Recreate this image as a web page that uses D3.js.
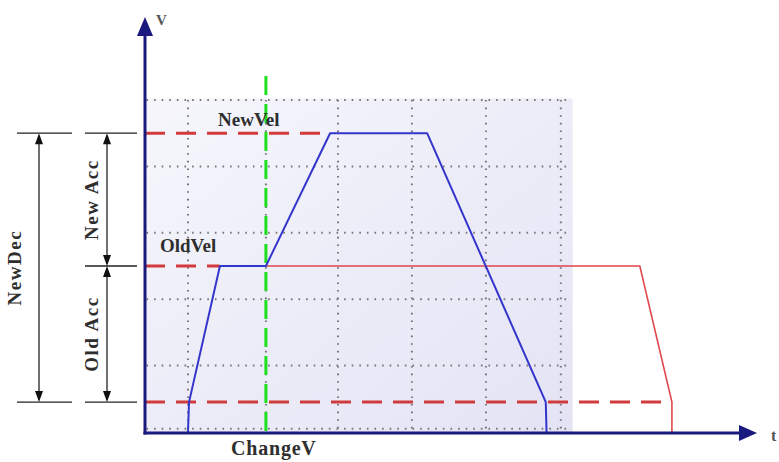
<!DOCTYPE html>
<html>
<head>
<meta charset="utf-8">
<script src="https://cdn.jsdelivr.net/npm/d3@7/dist/d3.min.js"></script>
<style>
  html, body { margin: 0; padding: 0; background: #ffffff; }
  svg { display: block; }
  .lbl { font-family: "Liberation Serif", "DejaVu Serif", serif; font-weight: bold; fill: #2e2e2e; }
</style>
</head>
<body>
<svg id="chart" width="779" height="462"></svg>
<script>
// Velocity profile before and after a speed change (time t, velocity v)
const gridTimes = [2.88, 8.1, 12.93, 17.88, 22.84, 27.86];
const gridVels = [0.1, 2, 4, 6, 8, 10];

const baseVel = 0.9;
const oldVel = 5;
const newVel = 9;
const changeTime = 8.1;

// new profile: accelerate to OldVel, change at ChangeV, ramp to NewVel, decelerate
const newProfileT = [2.88, 2.95, 5.02, 8.1, 12.4, 18.9, 26.85, 26.9];
const newProfileV = [0, 0.9, 5, 5, 9, 9, 0.9, 0];
// original profile continuing at OldVel
const oldProfileT = [8.1, 33.15, 35.3, 35.3];
const oldProfileV = [5, 5, 0.9, 0];

// dashed reference levels and where each one ends
const levelVels = [newVel, oldVel, baseVel];
const levelEnds = [12.0, 5.0, 35.3];

const svg = d3.select("#chart");
const x = d3.scaleLinear().domain([0, 41]).range([145, 757]);
const y = d3.scaleLinear().domain([0, 10]).range([432, 100]);

// shaded plot area
const defs = svg.append("defs");
const grad = defs.append("linearGradient").attr("id", "shade")
  .attr("x1", "0").attr("y1", "0").attr("x2", "1").attr("y2", "1");
grad.append("stop").attr("offset", "0").attr("stop-color", "#f6f6fc");
grad.append("stop").attr("offset", "1").attr("stop-color", "#e3e3f5");

svg.append("rect")
  .attr("x", x(0)).attr("y", y(10.05))
  .attr("width", x(28.65) - x(0)).attr("height", y(0) - y(10.05))
  .attr("fill", "url(#shade)");

// dotted grid
const grid = svg.append("g").attr("stroke", "#777").attr("stroke-width", 2)
  .attr("stroke-dasharray", "1.6,6").attr("stroke-linecap", "butt");
grid.selectAll("line.v").data(gridTimes).join("line").attr("class", "v")
  .attr("x1", d => x(d)).attr("x2", d => x(d))
  .attr("y1", y(10)).attr("y2", y(0));
grid.selectAll("line.h").data(gridVels).join("line").attr("class", "h")
  .attr("x1", x(0.1)).attr("x2", x(28.4))
  .attr("y1", d => y(d)).attr("y2", d => y(d));

// dashed velocity levels
svg.append("g").selectAll("line").data(levelVels).join("line")
  .attr("x1", x(0)).attr("x2", (d, i) => x(levelEnds[i]))
  .attr("y1", d => y(d)).attr("y2", d => y(d))
  .attr("stroke", "#d23a3c").attr("stroke-width", 3)
  .attr("stroke-dasharray", "20,11");

// ChangeV marker
svg.append("line")
  .attr("x1", x(changeTime)).attr("x2", x(changeTime))
  .attr("y1", y(10.72)).attr("y2", y(0))
  .attr("stroke", "#1fe01f").attr("stroke-width", 3)
  .attr("stroke-dasharray", "19,9");

const line = d3.line().x(d => x(d[0])).y(d => y(d[1]));

// original profile
svg.append("path")
  .datum(oldProfileT.map((t, i) => [t, oldProfileV[i]]))
  .attr("d", line).attr("fill", "none")
  .attr("stroke", "#e0474b").attr("stroke-width", 1.6);

// new profile
svg.append("path")
  .datum(newProfileT.map((t, i) => [t, newProfileV[i]]))
  .attr("d", line).attr("fill", "none")
  .attr("stroke", "#3535cc").attr("stroke-width", 2)
  .attr("stroke-linejoin", "round");

// axes with arrowheads
const axisColor = "#19197e";
svg.append("line")
  .attr("x1", x(0)).attr("x2", x(0)).attr("y1", y(0) + 2.5).attr("y2", y(12))
  .attr("stroke", axisColor).attr("stroke-width", 3);
svg.append("path")
  .attr("d", `M${x(0)},${y(12.5)} L${x(0) - 8},${y(12.5) + 19} L${x(0) + 8},${y(12.5) + 19} Z`)
  .attr("fill", axisColor);
svg.append("line")
  .attr("x1", x(0) - 1.5).attr("x2", x(40)).attr("y1", y(0) + 1).attr("y2", y(0) + 1)
  .attr("stroke", axisColor).attr("stroke-width", 3);
svg.append("path")
  .attr("d", `M${x(41)},${y(0) + 1} L${x(41) - 18},${y(0) - 7} L${x(41) - 18},${y(0) + 9} Z`)
  .attr("fill", axisColor);

svg.append("text").attr("class", "lbl").attr("x", 156).attr("y", 25)
  .attr("font-size", 15).style("fill", "#555").text("V");
svg.append("text").attr("class", "lbl").attr("x", 771).attr("y", 441)
  .attr("font-size", 16).style("fill", "#555").text("t");

// dimension annotations on the left
const dim = svg.append("g").attr("stroke", "#222").attr("stroke-width", 1.3);
const extLines = [
  [17, 72, newVel], [85, 137, newVel],
  [85, 137, oldVel],
  [17, 72, baseVel], [85, 137, baseVel]
];
dim.selectAll("line.ext").data(extLines).join("line").attr("class", "ext")
  .attr("x1", d => d[0]).attr("x2", d => d[1])
  .attr("y1", d => y(d[2])).attr("y2", d => y(d[2]));

const spans = [
  { x: 39, top: newVel, bot: baseVel, label: "NewDec", lx: 21 },
  { x: 107, top: newVel, bot: oldVel, label: "New Acc", lx: 98 },
  { x: 107, top: oldVel, bot: baseVel, label: "Old Acc", lx: 98 }
];
spans.forEach(s => {
  const yt = y(s.top), yb = y(s.bot);
  dim.append("line").attr("x1", s.x).attr("x2", s.x).attr("y1", yt + 6).attr("y2", yb - 6);
  svg.append("path").attr("fill", "#111")
    .attr("d", `M${s.x},${yt} L${s.x - 4},${yt + 11} L${s.x + 4},${yt + 11} Z`);
  svg.append("path").attr("fill", "#111")
    .attr("d", `M${s.x},${yb} L${s.x - 4},${yb - 11} L${s.x + 4},${yb - 11} Z`);
  const cy = (yt + yb) / 2;
  svg.append("text").attr("class", "lbl")
    .attr("transform", `translate(${s.lx},${cy}) rotate(-90)`)
    .attr("text-anchor", "middle").attr("font-size", 19)
    .attr("letter-spacing", 1.5)
    .text(s.label);
});

// level labels
svg.append("text").attr("class", "lbl").attr("x", 218).attr("y", 126)
  .attr("font-size", 19).text("NewVel");
svg.append("text").attr("class", "lbl").attr("x", 160).attr("y", 252)
  .attr("font-size", 19).text("OldVel");
svg.append("text").attr("class", "lbl").attr("x", 231).attr("y", 455)
  .attr("font-size", 20).attr("letter-spacing", 0.8).text("ChangeV");
</script>
</body>
</html>
